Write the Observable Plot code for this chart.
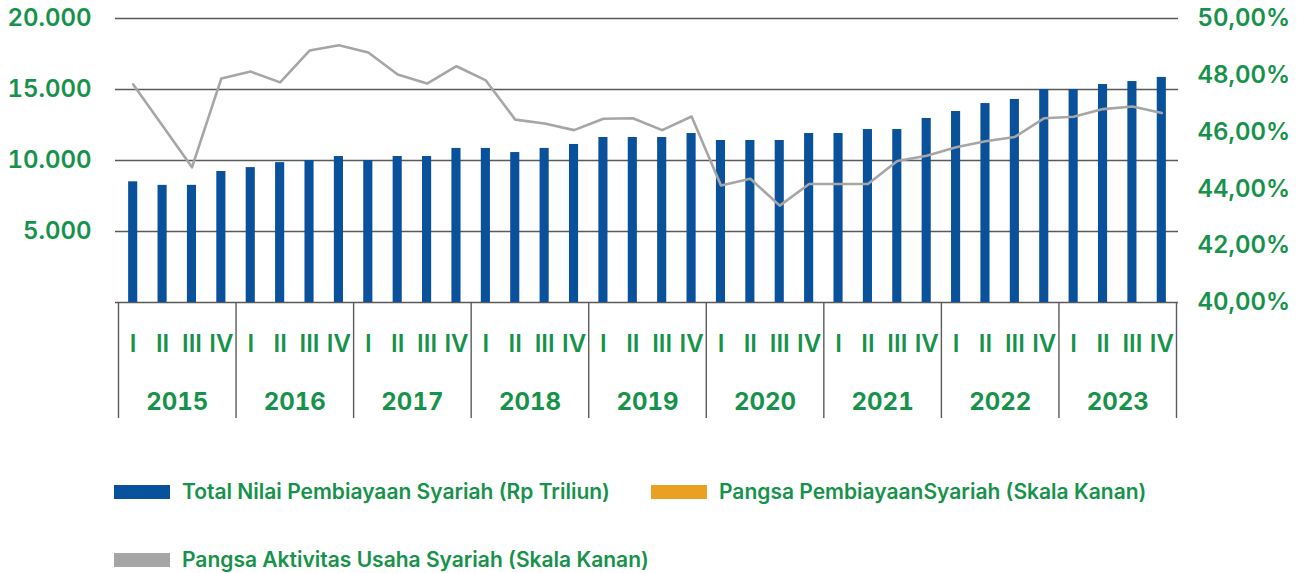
<!DOCTYPE html>
<html>
<head>
<meta charset="utf-8">
<script src="https://cdn.jsdelivr.net/npm/d3@7"></script>
<script src="https://cdn.jsdelivr.net/npm/@observablehq/plot@0.6"></script>
<style>
  body { margin: 0; background: #fff; }
  #chart svg { display: block; font-family: Inter, sans-serif; }
  #legend { position: relative; width: 1297px; height: 103px; font-family: Inter, sans-serif; font-weight: 600; font-size: 21px; color: #16924a; }
  .item { position: absolute; display: flex; align-items: center; height: 28px; line-height: 28px; white-space: nowrap; }
  .sw { width: 56px; height: 14px; margin-right: 12px; }
</style>
</head>
<body>
<div id="chart"></div>
<div id="legend"></div>
<script>
// ---- Data ----
const years = ["2015", "2016", "2017", "2018", "2019", "2020", "2021", "2022", "2023"];
const quarters = ["I", "II", "III", "IV"];
// Total Nilai Pembiayaan Syariah (Rp Triliun), quarterly
const financing = [
  8500, 8250, 8250, 9225,
  9500, 9850, 10000, 10280,
  10000, 10280, 10280, 10850,
  10850, 10560, 10850, 11130,
  11620, 11620, 11620, 11900,
  11410, 11410, 11410, 11900,
  11900, 12180, 12180, 12960,
  13450, 14010, 14300, 15000,
  15000, 15350, 15560, 15850
];
// Pangsa Aktivitas Usaha Syariah (%), right scale
const activityShare = [
  47.68, 46.22, 44.76, 47.89,
  48.13, 47.75, 48.87, 49.06,
  48.80, 48.03, 47.71, 48.32,
  47.82, 46.44, 46.30, 46.07,
  46.47, 46.49, 46.07, 46.55,
  44.12, 44.36, 43.41, 44.17,
  44.17, 44.17, 44.98, 45.17,
  45.47, 45.68, 45.83, 46.49,
  46.54, 46.81, 46.90, 46.67
];
const leftTicks = [5000, 10000, 15000, 20000];
const leftTickLabels = ["5.000", "10.000", "15.000", "20.000"];
const gridTicks = [0, 5000, 10000, 15000, 20000];
const rightTicks = [40, 42, 44, 46, 48, 50];
const rightTickLabels = ["40,00%", "42,00%", "44,00%", "46,00%", "48,00%", "50,00%"];
const legendLabels = [
  "Total Nilai Pembiayaan Syariah (Rp Triliun)",
  "Pangsa PembiayaanSyariah (Skala Kanan)",
  "Pangsa Aktivitas Usaha Syariah (Skala Kanan)"
];

// ---- Styles ----
const GREEN = "#16924a";
const BLUE = "#0a519c";
const ORANGE = "#e9a023";
const GRAY = "#a6a6a6";
const GRID = "#5a5a5a";
const barFrac = 0.31;

// Right scale (40%..50%) mapped onto left scale (0..20000)
const rightMin = 40, rightMax = 50, leftMax = 20000;
const toLeft = p => (p - rightMin) / (rightMax - rightMin) * leftMax;

const data = financing.map((v, i) => ({
  i,
  year: years[Math.floor(i / 4)],
  q: quarters[i % 4],
  value: v,
  share: activityShare[i]
}));
const nBands = data.length;
const centers = data.map(d => d.i + 0.5);
const seps = d3.range(0, nBands + 1, 4);
const yearCenters = years.map((y, k) => k * 4 + 2);

const chart = Plot.plot({
  width: 1297,
  height: 470,
  marginTop: 18,
  marginBottom: 168,
  marginLeft: 118,
  marginRight: 121,
  style: { fontFamily: "Inter, sans-serif", fontWeight: 600, color: GREEN, background: "#fff" },
  x: { domain: [0, nBands] },
  y: { domain: [0, leftMax] },
  marks: [
    Plot.ruleY(gridTicks, { stroke: GRID, strokeWidth: 1.4, insetLeft: -3, insetRight: -2 }),
    Plot.rectY(data, {
      x1: d => d.i + 0.5 - barFrac / 2,
      x2: d => d.i + 0.5 + barFrac / 2,
      y: "value",
      fill: BLUE
    }),
    Plot.line(data, {
      x: d => d.i + 0.5,
      y: d => toLeft(d.share),
      stroke: GRAY,
      strokeWidth: 2.6
    }),
    Plot.axisY(leftTicks, {
      anchor: "left", tickSize: 0, tickPadding: 27,
      tickFormat: d => leftTickLabels[leftTicks.indexOf(d)],
      fontSize: 24, fill: GREEN, fontWeight: 600, label: null
    }),
    Plot.axisY(rightTicks.map(toLeft), {
      anchor: "right", tickSize: 0, tickPadding: 21,
      tickFormat: d => rightTickLabels[rightTicks.map(toLeft).indexOf(d)],
      fontSize: 24, fill: GREEN, fontWeight: 600, label: null
    }),
    Plot.axisX(seps, {
      anchor: "bottom", tickSize: 116, tickPadding: 0,
      tickFormat: () => "", stroke: GRID, strokeWidth: 1.4, label: null
    }),
    Plot.axisX(centers, {
      anchor: "bottom", tickSize: 0, tickPadding: 32,
      tickFormat: d => quarters[Math.floor(d) % 4],
      fontSize: 24, fill: GREEN, fontWeight: 600, label: null
    }),
    Plot.axisX(yearCenters, {
      anchor: "bottom", tickSize: 0, tickPadding: 90,
      tickFormat: d => years[(d - 2) / 4],
      fontSize: 24, fill: GREEN, fontWeight: 700, label: null
    })
  ]
});
document.getElementById("chart").appendChild(chart);

// ---- Legend ----
const legend = document.getElementById("legend");
const legendItems = [
  { label: legendLabels[0], color: BLUE, left: 114, top: 8 },
  { label: legendLabels[1], color: ORANGE, left: 651, top: 8 },
  { label: legendLabels[2], color: GRAY, left: 114, top: 76 }
];
for (const it of legendItems) {
  const el = document.createElement("div");
  el.className = "item";
  el.style.left = it.left + "px";
  el.style.top = it.top + "px";
  const sw = document.createElement("span");
  sw.className = "sw";
  sw.style.background = it.color;
  const tx = document.createElement("span");
  tx.textContent = it.label;
  el.appendChild(sw);
  el.appendChild(tx);
  legend.appendChild(el);
}
</script>
</body>
</html>
